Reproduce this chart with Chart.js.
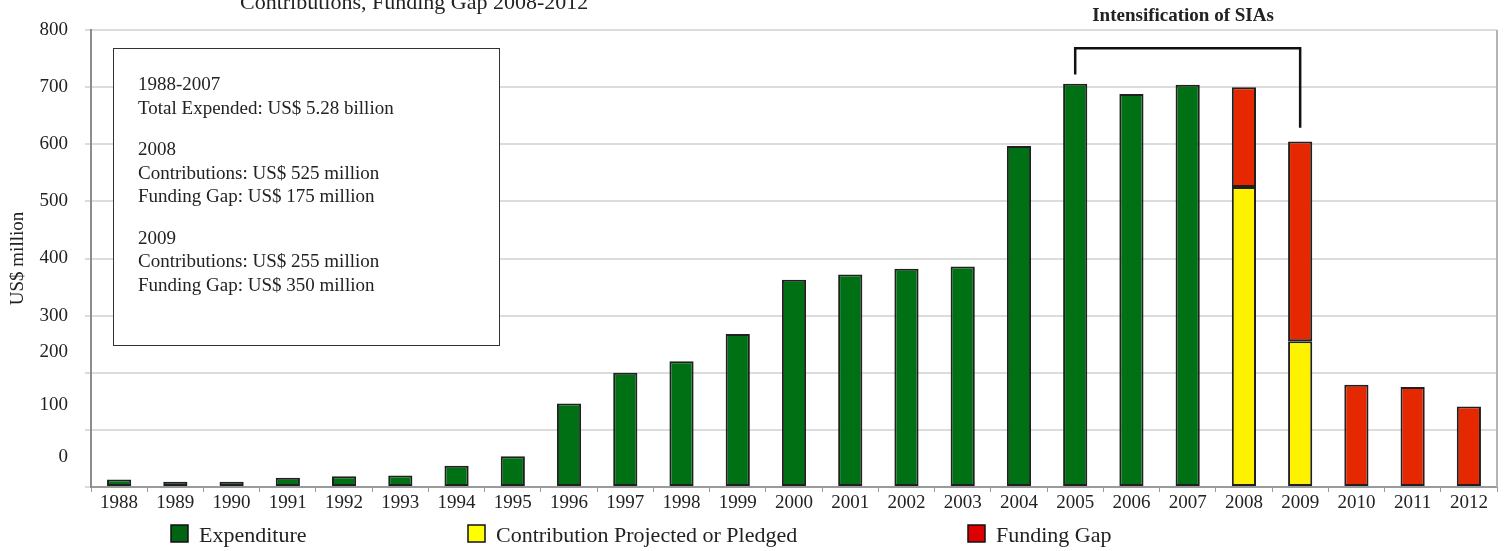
<!DOCTYPE html>
<html>
<head>
<meta charset="utf-8">
<title>Expenditure, Contributions, Funding Gap 2008-2012</title>
<script src="https://cdn.jsdelivr.net/npm/chart.js@4.4.1/dist/chart.umd.min.js"></script>
<style>
  body { margin: 0; background: #fff; }
  #wrap { width: 1509px; height: 551px; position: relative; }
</style>
</head>
<body>
<div id="wrap"><canvas id="funding"></canvas></div>
<script>
// years on the x axis
const years = ['1988', '1989', '1990', '1991', '1992', '1993', '1994', '1995', '1996', '1997',
    '1998', '1999', '2000', '2001', '2002', '2003', '2004', '2005', '2006', '2007',
    '2008', '2009', '2010', '2011', '2012'];

// US$ million
const expenditure = [13, 9, 9, 16, 19, 20, 37, 54, 146, 200,
    220, 268, 363, 372, 382, 386, 597, 706, 688, 704,
    null, null, null, null, null];
const contribution = [null, null, null, null, null, null, null, null, null, null,
    null, null, null, null, null, null, null, null, null, null,
    525, 255, null, null, null];
const fundingGap = [null, null, null, null, null, null, null, null, null, null,
    null, null, null, null, null, null, null, null, null, null,
    175, 350, 179, 175, 141];

// the original's y labels sit off the grid below 300, so ticks and labels are listed here
const yTickValues = [0, 53, 100, 144, 200, 237, 300, 400, 500, 600, 700, 800];
const yTickLabels = ['', '0', '', '100', '', '200', '300', '400', '500', '600', '700', '800'];

const noteLines = [
    '1988-2007', 'Total Expended: US$ 5.28 billion', '',
    '2008', 'Contributions: US$ 525 million', 'Funding Gap: US$ 175 million', '',
    '2009', 'Contributions: US$ 255 million', 'Funding Gap: US$ 350 million'
];

const serif = '"Liberation Serif", "DejaVu Serif", serif';

const extras = {
    id: 'extras',
    afterDraw(chart) {
        const ctx = chart.ctx;
        const area = chart.chartArea;
        const x = chart.scales.x;
        const y = chart.scales.y;
        ctx.save();

        // right frame line
        ctx.strokeStyle = '#b4b4b4';
        ctx.lineWidth = 2;
        ctx.beginPath();
        ctx.moveTo(area.right, area.top);
        ctx.lineTo(area.right, area.bottom);
        ctx.stroke();

        // cut-off title
        ctx.fillStyle = '#222';
        ctx.font = '22px ' + serif;
        ctx.textAlign = 'left';
        ctx.textBaseline = 'alphabetic';
        ctx.fillText('Contributions, Funding Gap 2008-2012', 240, 9);

        // SIA bracket
        const bx1 = x.getPixelForValue(years.indexOf('2005'));
        const bx2 = x.getPixelForValue(years.indexOf('2009'));
        ctx.strokeStyle = '#111';
        ctx.lineWidth = 2.5;
        ctx.beginPath();
        ctx.moveTo(bx1, y.getPixelForValue(722));
        ctx.lineTo(bx1, y.getPixelForValue(768));
        ctx.lineTo(bx2, y.getPixelForValue(768));
        ctx.lineTo(bx2, y.getPixelForValue(629));
        ctx.stroke();
        ctx.font = 'bold 19px ' + serif;
        ctx.textAlign = 'center';
        ctx.fillText('Intensification of SIAs', 1183, 21);

        // note box
        ctx.fillStyle = '#fff';
        ctx.fillRect(113, 48, 386, 297);
        ctx.strokeStyle = '#333';
        ctx.lineWidth = 1;
        ctx.strokeRect(113.5, 48.5, 386, 297);
        ctx.fillStyle = '#222';
        ctx.font = '19px ' + serif;
        ctx.textAlign = 'left';
        let ly = 90;
        noteLines.forEach(line => {
            if (line === '') {
                ly += 18;
                return;
            }
            ctx.fillText(line, 138, ly);
            ly += 23.5;
        });

        // legend
        const legendX = [171, 468, 968];
        ctx.font = '22px ' + serif;
        chart.data.datasets.forEach((ds, i) => {
            ctx.fillStyle = ds.legendColor;
            ctx.fillRect(legendX[i], 525, 17, 17);
            ctx.strokeStyle = '#111';
            ctx.lineWidth = 1.5;
            ctx.strokeRect(legendX[i], 525, 17, 17);
            ctx.fillStyle = '#222';
            ctx.fillText(ds.label, legendX[i] + 28, 542);
        });
        ctx.restore();
    }
};

const gridColor = c => (c.tick && c.tick.value % 100 === 0) ? '#dcdcdc' : 'rgba(0,0,0,0)';

let fundingCtx = document.getElementById('funding').getContext('2d');
let fundingChart = new Chart(fundingCtx, {
    type: 'bar',
    data: {
        labels: years,
        datasets: [{
            label: 'Expenditure',
            data: expenditure,
            backgroundColor: '#007014',
            legendColor: '#006410'
        }, {
            label: 'Contribution Projected or Pledged',
            data: contribution,
            backgroundColor: '#fff200',
            legendColor: '#ffff00'
        }, {
            label: 'Funding Gap',
            data: fundingGap,
            backgroundColor: '#e62800',
            legendColor: '#dd0000'
        }]
    },
    options: {
        responsive: true,
        maintainAspectRatio: false,
        animation: false,
        datasets: {
            bar: {
                barPercentage: 0.43,
                categoryPercentage: 1.0,
                borderColor: '#202020',
                borderWidth: 2,
                borderSkipped: false
            }
        },
        layout: {
            padding: { left: 0, right: 12, top: 30, bottom: 36 }
        },
        plugins: {
            legend: { display: false },
            tooltip: { enabled: false }
        },
        scales: {
            x: {
                stacked: true,
                grid: {
                    offset: true,
                    drawOnChartArea: false,
                    tickLength: 5,
                    color: '#9a9a9a'
                },
                border: { color: '#9a9a9a', width: 2 },
                ticks: {
                    color: '#222',
                    padding: 0,
                    maxRotation: 0,
                    autoSkip: false,
                    font: { family: serif, size: 19 }
                },
                afterFit(scale) { scale.height = 28; }
            },
            y: {
                stacked: true,
                min: 0,
                max: 800,
                afterBuildTicks(scale) {
                    scale.ticks = yTickValues.map(v => ({ value: v }));
                },
                grid: {
                    color: gridColor,
                    tickColor: gridColor,
                    lineWidth: 2,
                    tickLength: 6
                },
                border: { color: '#8c8c8c', width: 2 },
                ticks: {
                    color: '#222',
                    padding: 17,
                    autoSkip: false,
                    font: { family: serif, size: 19 },
                    callback: (value, index) => yTickLabels[index]
                },
                title: {
                    display: true,
                    text: 'US$ million',
                    color: '#222',
                    padding: { top: 7, bottom: 0 },
                    font: { family: serif, size: 19 }
                },
                afterFit(scale) { scale.width = 91; }
            }
        }
    },
    plugins: [extras]
});
</script>
</body>
</html>
